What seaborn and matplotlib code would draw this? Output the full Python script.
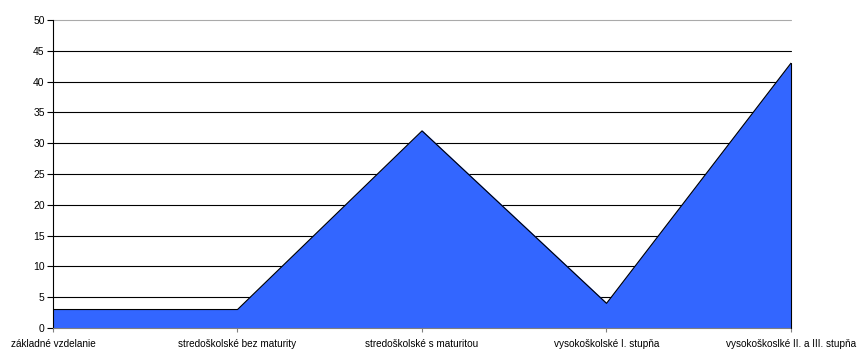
import matplotlib
matplotlib.use('Agg')
from matplotlib import pyplot as plt
import pandas as pd
import seaborn as sns

categories = ['základné vzdelanie', 'stredoškolské bez maturity',
              'stredoškolské s maturitou', 'vysokoškolské I. stupňa',
              'vysokoškoslké II. a III. stupňa']
values = [3, 3, 32, 4, 43]
y_ticks = list(range(0, 55, 5))


def main():
    sns.set_style('white')
    plt.rcParams['font.family'] = ['Liberation Sans', 'DejaVu Sans']
    plt.rcParams['xtick.labelcolor'] = 'black'
    plt.rcParams['ytick.labelcolor'] = 'black'

    data = pd.DataFrame({'pos': range(len(categories)), 'value': values})

    fig = plt.figure(figsize=(8.62, 3.56), dpi=100)
    ax = fig.add_axes([53 / 862, 28 / 356, 738 / 862, 308 / 356])

    ax.fill_between(data['pos'], data['value'], 0, color='#3366FF', zorder=2)
    sns.lineplot(x='pos', y='value', data=data, color='black',
                 linewidth=0.8, ax=ax, zorder=3)
    # closing edge on the right side of the area
    ax.plot([data['pos'].iloc[-1]] * 2, [0, data['value'].iloc[-1]],
            color='black', linewidth=0.8, zorder=3, clip_on=False)

    ax.set_xlim(0, len(categories) - 1)
    ax.set_ylim(0, 50)
    ax.set_yticks(y_ticks)
    ax.set_xticks(range(len(categories)))
    ax.set_xticklabels(categories, fontsize=7.2)
    ax.tick_params(axis='y', labelsize=7.5, length=4, width=0.8, pad=2,
                   direction='out', left=True, color='black')
    ax.tick_params(axis='x', length=3, width=0.8, pad=5,
                   direction='out', bottom=True, color='#808080')

    # gridlines (top one is lighter, as in the original)
    for y in y_ticks[1:]:
        ax.axhline(y, color='#aaaaaa' if y == 50 else 'black',
                   linewidth=0.8, zorder=1, clip_on=False)
    ax.set_xlabel('')
    ax.set_ylabel('')

    for side in ['top', 'right']:
        ax.spines[side].set_visible(False)
    ax.spines['left'].set_color('black')
    ax.spines['left'].set_linewidth(0.8)
    ax.spines['bottom'].set_color('#808080')
    ax.spines['bottom'].set_linewidth(0.8)

    plt.savefig('out.png', dpi=100)
    plt.close()


if __name__ == "__main__":
    main()
